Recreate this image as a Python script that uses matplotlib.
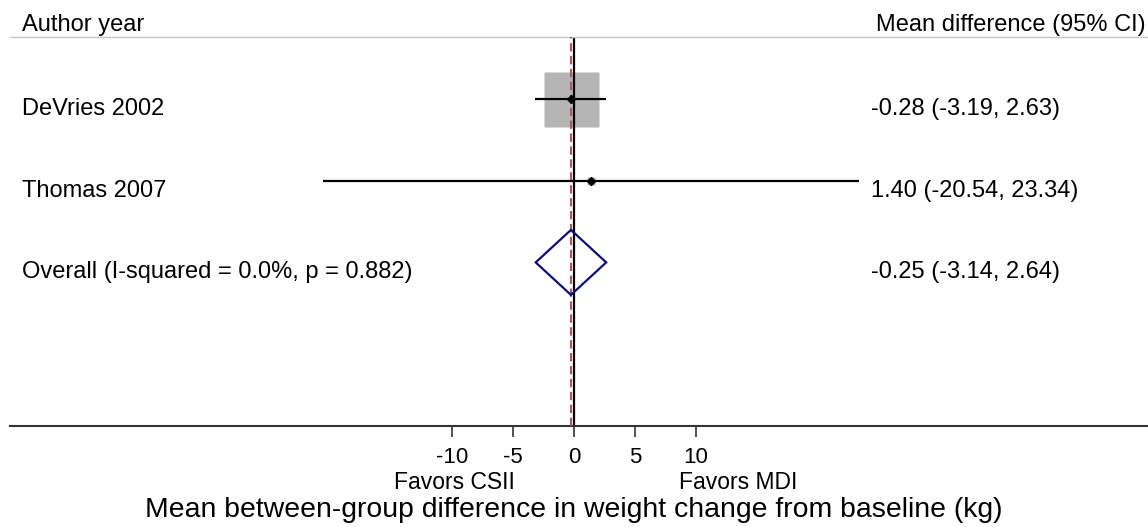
import matplotlib
matplotlib.use("Agg")
import matplotlib.pyplot as plt
import numpy as np
from matplotlib.patches import Polygon

plt.rcParams['font.family'] = ['Liberation Sans', 'DejaVu Sans']

# ---- data ----
studies = ["DeVries 2002", "Thomas 2007"]
estimates = [-0.28, 1.40]
lower = [-3.19, -20.54]
upper = [2.63, 23.34]
weights = [98.3, 1.7]          # study weights (%) -> box area

overall_label = "Overall (I-squared = 0.0%, p = 0.882)"
overall_est = -0.25
overall_lo = -3.14
overall_hi = 2.64

xticks = [-10, -5, 0, 5, 10]
header_left = "Author year"
header_right = "Mean difference (95% CI)"
favors_left = "Favors CSII"
favors_right = "Favors MDI"
xlabel = "Mean between-group difference in weight change from baseline (kg)"

# ---- layout (pixels) ----
W, H = 1148, 527
DPI = 100
px_per_unit = 12.2
zero_px = 574
row0_px = 99
row_step = 81.7
ax_left_px, ax_top_px, ax_bot_px = 10, 37, 426

fig = plt.figure(figsize=(W / DPI, H / DPI), dpi=DPI)
ax = fig.add_axes([ax_left_px / W, 1 - ax_bot_px / H, (W - ax_left_px) / W,
                   (ax_bot_px - ax_top_px) / H])
ax.set_xlim((ax_left_px - zero_px) / px_per_unit, (W - zero_px) / px_per_unit)
r_top = (ax_top_px - row0_px) / row_step
r_bot = (ax_bot_px - row0_px) / row_step
ax.set_ylim(r_bot, r_top)

def px2x(px):
    return (px - zero_px) / px_per_unit

def px2r(py):
    return (py - row0_px) / row_step

# spines
for s in ['left', 'right']:
    ax.spines[s].set_visible(False)
ax.spines['top'].set_color('#c4c4c4')
ax.spines['top'].set_linewidth(1.0)
ax.spines['bottom'].set_color('#333333')
ax.spines['bottom'].set_linewidth(1.5)
ax.set_yticks([])
ax.set_xticks(xticks)
ax.set_xticklabels([str(t) for t in xticks])
ax.tick_params(axis='x', direction='out', length=8, width=1.2, color='#333333',
               labelsize=16, pad=7)

# reference lines
ax.axvline(0, color='black', lw=1.6, zorder=2)
ax.axvline(overall_est, color='#ad5862', lw=1.5, ls=(0, (4, 2.2)), zorder=3)

rows = np.arange(len(studies))
text_off = 16 / row_step
max_w = max(weights)
for r, name, est, lo, hi, w in zip(rows, studies, estimates, lower, upper, weights):
    side_pt = 55 * 0.72 * np.sqrt(w / max_w)
    ax.plot([est], [r], marker='s', ms=side_pt, color='#b5b5b5', mec='none', zorder=1)
    ax.plot([lo, hi], [r, r], color='black', lw=1.6, zorder=4, solid_capstyle='butt')
    ax.plot([est], [r], marker='D', ms=4.5, color='black', zorder=5)
    ax.text(px2x(22), r + text_off, name, fontsize=17, ha='left', va='baseline')
    ax.text(px2x(871), r + text_off, f"{est:.2f} ({lo:.2f}, {hi:.2f})", fontsize=17,
            ha='left', va='baseline')

# overall diamond
ro = len(studies)
h = 32.5 / row_step
dia = Polygon([[overall_lo, ro], [overall_est, ro - h], [overall_hi, ro], [overall_est, ro + h]],
              closed=True, fill=False, edgecolor='#0c0c7a', lw=1.6, zorder=6)
ax.add_patch(dia)
ax.text(px2x(22), ro + text_off, overall_label, fontsize=17, ha='left', va='baseline')
ax.text(px2x(871), ro + text_off,
        f"{overall_est:.2f} ({overall_lo:.2f}, {overall_hi:.2f})", fontsize=17,
        ha='left', va='baseline')

# headers
ax.text(px2x(22), px2r(31), header_left, fontsize=17, ha='left', va='baseline', clip_on=False)
ax.text(px2x(1146), px2r(31), header_right, fontsize=17, ha='right', va='baseline', clip_on=False)

# favors labels and x label
fig.text((454.5) / W, 1 - 489 / H, favors_left, fontsize=16.5, ha='center', va='baseline')
fig.text((738.5) / W, 1 - 489 / H, favors_right, fontsize=16.5, ha='center', va='baseline')
fig.text(573.5 / W, 1 - 517 / H, xlabel, fontsize=20.4, ha='center', va='baseline')

fig.savefig("out.png", dpi=DPI, facecolor='white')
